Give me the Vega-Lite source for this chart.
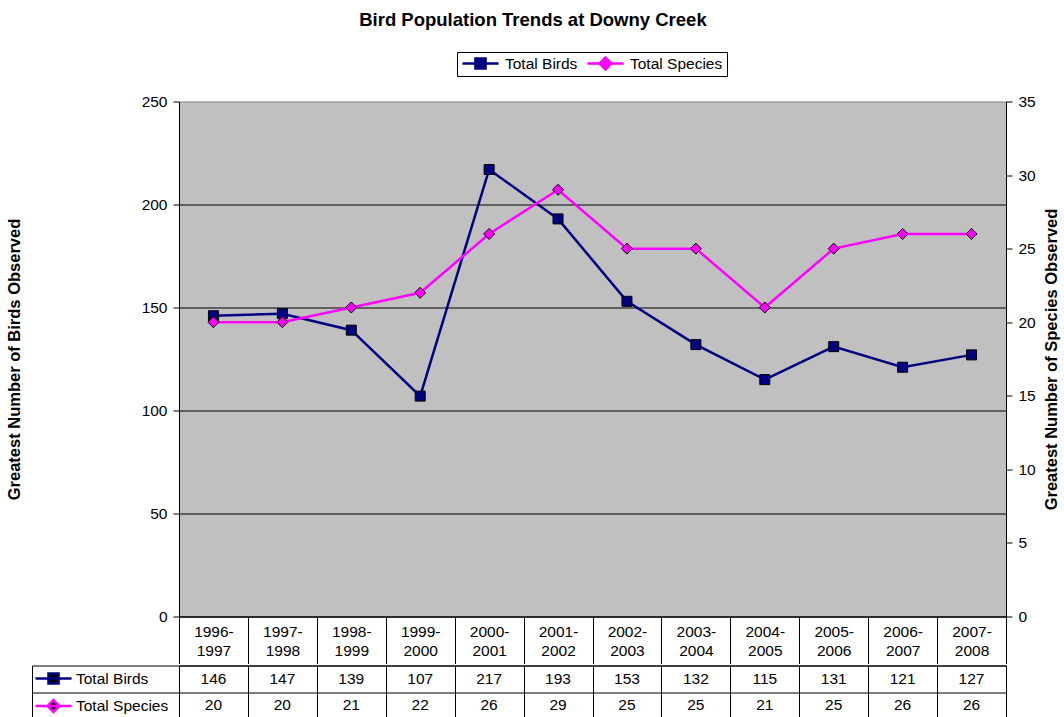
{
  "$schema": "https://vega.github.io/schema/vega-lite/v6.json",
  "padding": {"left": 5, "top": 10.5, "right": 0, "bottom": 0},
  "background": "white",
  "title": {"text": "Bird Population Trends at Downy Creek", "fontSize": 18.5, "fontWeight": "bold", "font": "Liberation Sans", "color": "black", "anchor": "middle", "offset": 22},
  "datasets": {
    "birds": [
      {"period": "1996-1997", "Total Birds": 146, "Total Species": 20},
      {"period": "1997-1998", "Total Birds": 147, "Total Species": 20},
      {"period": "1998-1999", "Total Birds": 139, "Total Species": 21},
      {"period": "1999-2000", "Total Birds": 107, "Total Species": 22},
      {"period": "2000-2001", "Total Birds": 217, "Total Species": 26},
      {"period": "2001-2002", "Total Birds": 193, "Total Species": 29},
      {"period": "2002-2003", "Total Birds": 153, "Total Species": 25},
      {"period": "2003-2004", "Total Birds": 132, "Total Species": 25},
      {"period": "2004-2005", "Total Birds": 115, "Total Species": 21},
      {"period": "2005-2006", "Total Birds": 131, "Total Species": 25},
      {"period": "2006-2007", "Total Birds": 121, "Total Species": 26},
      {"period": "2007-2008", "Total Birds": 127, "Total Species": 26}
    ]
  },
  "spacing": 0,
  "vconcat": [
    {
      "width": 827,
      "height": 515,
      "data": {"name": "birds"},
      "view": {"fill": "#C0C0C0", "stroke": "#808080", "strokeWidth": 1},
      "encoding": {
        "x": {
          "field": "period", "type": "nominal", "sort": null, "bandPosition": 0.5,
          "scale": {"type": "band", "paddingInner": 0, "paddingOuter": 0},
          "axis": {
            "title": null, "tickBand": "extent", "tickSize": 47, "tickColor": "black", "domainColor": "black",
            "labelPadding": -38.7, "labelAngle": 0, "labelBaseline": "top",
            "labelExpr": "[slice(datum.label,0,5), slice(datum.label,5)]",
            "labelLineHeight": 18.5, "labelOverlap": false, "labelBound": false, "labelFlush": false, "grid": false
          }
        }
      },
      "layer": [
        {
          "encoding": {
            "y": {
              "field": "Total Birds", "type": "quantitative",
              "scale": {"domain": [0, 250], "nice": false},
              "axis": {
                "title": "Greatest Number of Birds Observed", "orient": "left",
                "values": [0, 50, 100, 150, 200, 250],
                "grid": true,
                "gridColor": {"condition": {"test": "datum.value >= 250", "value": "transparent"}, "value": "black"},
                "gridOpacity": 1, "tickSize": 6, "tickColor": "black", "domainColor": "black", "labelPadding": 6,
                "titleFontSize": 16.5, "titleFontWeight": "bold", "titlePadding": 119
              }
            }
          },
          "layer": [
            {
              "mark": {"type": "line", "strokeWidth": 2.5},
              "encoding": {
                "color": {
                  "datum": "Total Birds", "type": "nominal",
                  "scale": {"domain": ["Total Birds", "Total Species"], "range": ["#000080", "#FF00FF"]},
                  "legend": {
                    "orient": "none", "legendX": 278, "legendY": -49.5, "direction": "horizontal", "title": null,
                    "strokeColor": "black", "fillColor": "white", "padding": 4,
                    "labelFontSize": 15.5, "labelColor": "black", "labelOffset": 5, "columnPadding": 8,
                    "symbolSize": 1296, "clipHeight": 15,
                    "encode": {
                      "symbols": {
                        "update": {
                          "shape": {"signal": "datum.value === 'Total Birds' ? 'M-1,0L1,0M-0.28,-0.28L0.28,-0.28L0.28,0.28L-0.28,0.28Z' : 'M-1,0L1,0M0,-0.33L0.33,0L0,0.33L-0.33,0Z'"},
                          "fill": {"signal": "datum.value === 'Total Birds' ? '#000080' : '#FF00FF'"},
                          "stroke": {"signal": "datum.value === 'Total Birds' ? '#000080' : '#FF00FF'"},
                          "strokeWidth": {"value": 2.5},
                          "opacity": {"value": 1}
                        }
                      }
                    }
                  }
                }
              }
            },
            {
              "mark": {"type": "point", "shape": "square", "size": 100, "filled": true, "fill": "#000080", "stroke": "#000000", "strokeWidth": 1, "opacity": 1}
            }
          ]
        },
        {
          "encoding": {
            "y": {
              "field": "Total Species", "type": "quantitative",
              "scale": {"domain": [0, 35], "nice": false},
              "axis": {
                "title": "Greatest Number of Species Observed", "orient": "right",
                "values": [0, 5, 10, 15, 20, 25, 30, 35],
                "grid": false, "tickSize": 6, "tickColor": "black", "domainColor": "black", "labelPadding": 6,
                "titleFontSize": 16.5, "titleFontWeight": "bold", "titleAngle": 270, "titleBaseline": "top", "titlePadding": 8
              }
            }
          },
          "layer": [
            {
              "mark": {"type": "line", "strokeWidth": 2.5},
              "encoding": {"color": {"datum": "Total Species", "type": "nominal"}}
            },
            {
              "mark": {"type": "point", "shape": "diamond", "size": 121, "filled": true, "fill": "#FF00FF", "stroke": "#000000", "strokeWidth": 1, "opacity": 1}
            }
          ]
        }
      ],
      "resolve": {"scale": {"y": "independent"}}
    },
    {
      "width": 827,
      "height": 53,
      "data": {"name": "birds"},
      "transform": [{"fold": ["Total Birds", "Total Species"], "as": ["key", "value"]}],
      "view": {"stroke": "black", "fill": "white"},
      "mark": {"type": "text", "fontSize": 15.5, "baseline": "middle", "font": "Liberation Sans"},
      "encoding": {
        "x": {
          "field": "period", "type": "nominal", "sort": null, "bandPosition": 0.5,
          "scale": {"type": "band", "paddingInner": 0, "paddingOuter": 0},
          "axis": {"title": null, "labels": false, "ticks": false, "domain": false, "grid": true, "gridColor": "black", "gridOpacity": 1, "tickBand": "extent"}
        },
        "y": {
          "field": "key", "type": "nominal", "sort": ["Total Birds", "Total Species"], "bandPosition": 0.5,
          "scale": {"type": "band", "paddingInner": 0, "paddingOuter": 0},
          "axis": {"title": null, "labels": false, "orient": "left", "offset": 147, "tickSize": -147, "tickBand": "extent", "tickColor": "black", "domainColor": "black", "grid": true, "gridColor": "black", "gridOpacity": 1}
        },
        "text": {"field": "value", "type": "quantitative"},
        "color": {
          "field": "key", "type": "nominal",
          "scale": {"domain": ["Total Birds", "Total Species"], "range": ["#000000", "#000000"]},
          "legend": {
            "orient": "none", "legendX": -145, "legendY": 5, "direction": "vertical", "title": null,
            "padding": 0, "labelFontSize": 15.5, "labelColor": "black", "labelOffset": 3, "rowPadding": 10.5,
            "symbolSize": 1296, "clipHeight": 16,
            "encode": {
              "symbols": {
                "update": {
                  "shape": {"signal": "datum.value === 'Total Birds' ? 'M-1,0L1,0M-0.28,-0.28L0.28,-0.28L0.28,0.28L-0.28,0.28Z' : 'M-1,0L1,0M0,-0.33L0.33,0L0,0.33L-0.33,0Z'"},
                  "fill": {"signal": "datum.value === 'Total Birds' ? '#000080' : '#FF00FF'"},
                  "stroke": {"signal": "datum.value === 'Total Birds' ? '#000080' : '#FF00FF'"},
                  "strokeWidth": {"value": 2.5},
                  "opacity": {"value": 1}
                }
              }
            }
          }
        }
      }
    }
  ],
  "resolve": {"scale": {"x": "independent", "color": "independent"}, "legend": {"color": "independent"}},
  "config": {
    "font": "Liberation Sans",
    "axis": {"labelFont": "Liberation Sans", "labelFontSize": 15.5, "labelColor": "black", "titleFont": "Liberation Sans", "titleColor": "black"},
    "legend": {"labelFont": "Liberation Sans"}
  }
}
